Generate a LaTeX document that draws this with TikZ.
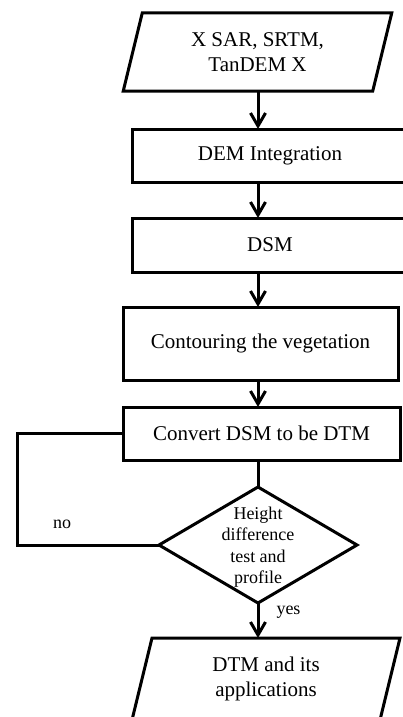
\documentclass[tikz,border=0pt]{standalone}
\usepackage{fontspec}
\setmainfont{Liberation Serif}
\usetikzlibrary{arrows.meta,shapes.geometric}
\tikzset{
  line/.style={line width=3pt},
  arr/.style={line width=3pt,-{Straight Barb[length=13pt,width=15pt,line width=3pt]}},
  box/.style={draw,line width=3pt,rectangle,inner sep=0pt,outer sep=0pt,align=center,
    font=\fontsize{21}{25}\selectfont},
  pshape/.style={rectangle,inner sep=0pt,outer sep=0pt,align=center,
    font=\fontsize{21}{25}\selectfont},
  dec/.style={draw,line width=3pt,diamond,inner sep=0pt,outer sep=0pt},
  dectext/.style={align=center,inner sep=0pt,font=\fontsize{18}{21.5}\selectfont},
  lbl/.style={inner sep=0pt,font=\fontsize{18}{21}\selectfont}
}
\begin{document}
\begin{tikzpicture}[x=1pt,y=-1pt]
\useasboundingbox (0,0) rectangle (403,717);
\clip (0,0) rectangle (403,717);
\fill[white] (0,0) rectangle (403,717);
% input parallelogram
\node[pshape,minimum width=249.5pt,minimum height=78pt] (in) at (257.5,52) {X SAR, SRTM,\\TanDEM X};
\draw[line,line join=miter] ([xshift=9.5pt]in.north west) -- ([xshift=9.5pt]in.north east)
  -- ([xshift=-9.5pt]in.south east) -- ([xshift=-9.5pt]in.south west) -- cycle;
% process boxes
\node[box,minimum width=276pt,minimum height=53pt] (dem) at (270,155.5) {DEM Integration};
\node[box,minimum width=276pt,minimum height=54pt] (dsm) at (270,245) {DSM};
\node[box,minimum width=275pt,minimum height=73pt] (cont) at (260.5,343.5) {Contouring the vegetation};
\node[box,minimum width=277pt,minimum height=53pt] (conv) at (261.5,433.5) {Convert DSM to be DTM};
% decision
\node[dec,minimum width=198pt,minimum height=116pt] (dia) at (258,545) {};
\node[dectext] (diat) at (258,547) {Height\\difference\\test and\\profile};
% output parallelogram
\node[pshape,minimum width=248pt,minimum height=82pt] (out) at (266,679) {DTM and its\\applications};
\draw[line,line join=miter] ([xshift=10pt]out.north west) -- ([xshift=10pt]out.north east)
  -- ([xshift=-10pt]out.south east) -- ([xshift=-10pt]out.south west) -- cycle;
% connectors
\draw[arr] (dia.north |- in.south) -- (dia.north |- dem.north);
\draw[arr] (dia.north |- dem.south) -- (dia.north |- dsm.north);
\draw[arr] (dia.north |- dsm.south) -- (dia.north |- cont.north);
\draw[arr] (dia.north |- cont.south) -- (dia.north |- conv.north);
\draw[line] (dia.north |- conv.south) -- (dia.north);
\draw[arr] (dia.south) -- (dia.south |- out.north);
\draw[line,line join=miter] (dia.west) -- ++(-142,0) |- (conv.west);
% labels
\node[lbl] (no) at (62,524) {no};
\node[lbl] (yes) at (288.5,612) {yes};
\end{tikzpicture}
\end{document}
